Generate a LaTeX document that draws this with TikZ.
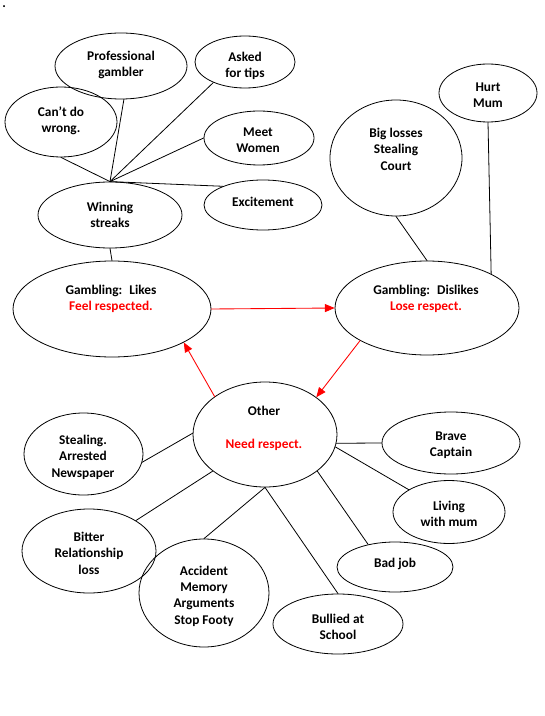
\documentclass[tikz,border=0pt]{standalone}
\usepackage{fontspec}
\setmainfont{Carlito}
\usepackage{tikz}
\usetikzlibrary{arrows}
\usetikzlibrary{shapes.geometric}

\begin{document}
\begin{tikzpicture}[x=0.75pt,y=-0.75pt,line cap=round,line join=round,>=triangle 45,
    bubble/.style 2 args={draw,ellipse,inner sep=0pt,line width=0.6pt,minimum width=#1*0.75pt,minimum height=#2*0.75pt},
    txt/.style={align=center,font=\fontsize{10}{12.3}\selectfont\bfseries,inner sep=0pt},
    link/.style={line width=0.6pt},
    resp/.style={->,color=red,line width=0.65pt}]
  \useasboundingbox (0,0) rectangle (545,716);
  \node[txt,anchor=base west] (dot) at (2,8) {.};

  \node[bubble={132}{66}] (pro) at (121,66) {};
  \node[bubble={100}{52}] (ask) at (245,62) {};
  \node[bubble={112}{70}] (cant) at (61,122) {};
  \node[bubble={110}{54}] (meet) at (259,138) {};
  \node[bubble={118}{50}] (exc) at (263,205) {};
  \node[bubble={144}{66}] (win) at (110,215) {};
  \node[bubble={198}{96}] (likes) at (112,309) {};
  \node[bubble={184}{94}] (dis) at (427,308) {};
  \node[bubble={98}{58}] (hurt) at (488,93) {};
  \node[bubble={132}{116}] (big) at (396,158) {};
  \node[bubble={144}{105}] (oth) at (265,434.5) {};
  \node[bubble={119}{82}] (steal) at (83.5,454) {};
  \node[bubble={138}{62}] (brave) at (451,443) {};
  \node[bubble={112}{63}] (liv) at (449,512) {};
  \node[bubble={116}{50}] (bad) at (395,567) {};
  \node[bubble={130}{60}] (bul) at (338,624) {};
  \node[bubble={130}{108}] (acc) at (204,593) {};
  \node[bubble={134}{84}] (bit) at (89,551) {};

  \node[txt] (pro-t) at (121,65) {Professional\\gambler};
  \node[txt] (ask-t) at (245,66) {Asked\\for tips};
  \node[txt] (cant-t) at (61,121) {Can’t do\\wrong.};
  \node[txt] (meet-t) at (258,140) {Meet\\Women};
  \node[txt] (exc-t) at (263,202) {Excitement};
  \node[txt] (win-t) at (110,215) {Winning\\streaks};
  \node[txt] (likes-t) at (111,299) {Gambling:~ Likes\\\textcolor{red}{Feel respected.}};
  \node[txt] (dis-t) at (426,299) {Gambling:~ Dislikes\\\textcolor{red}{Lose respect.}};
  \node[txt] (hurt-t) at (488,95) {Hurt\\Mum};
  \node[txt] (big-t) at (396,149) {Big losses\\Stealing\\Court};
  \node[txt] (oth-t) at (264,428.5) {Other\\[12.5pt]\textcolor{red}{Need respect.}};
  \node[txt] (steal-t) at (83,457) {Stealing.\\Arrested\\Newspaper};
  \node[txt] (brave-t) at (451,445) {Brave\\Captain};
  \node[txt] (liv-t) at (449,514) {Living\\with mum};
  \node[txt] (bad-t) at (395,564) {Bad job};
  \node[txt] (bul-t) at (338,627) {Bullied at\\School};
  \node[txt] (acc-t) at (204,596) {Accident\\Memory\\Arguments\\Stop Footy};
  \node[txt] (bit-t) at (89,553) {Bitter\\Relationship\\loss};

  \foreach \t in {cant.south,pro.-85,ask.-147,meet.west,exc.155}
  \draw[link] (win.north) -- (\t);
  \draw[link] (win.south) -- (likes.north);
  \draw[link] (big.south) -- (dis.north);
  \draw[link] (hurt.south) -- (dis.28);
  \draw[resp] (likes.east) -- (dis.west);
  \draw[resp] (dis.-154) -- (oth.36);
  \draw[resp] (oth.143) -- (likes.-25);
  \draw[link] (steal.-8) -- (oth.179);
  \draw[link] (oth.-7) -- (brave.west);
  \draw[link] (oth.-10) -- (liv.151);
  \draw[link] (oth.-35) -- (bad.140);
  \draw[link] (oth.south) -- (bul.north);
  \draw[link] (oth.south) -- (acc.north);
  \draw[link] (oth.-145) -- (bit.33);
\end{tikzpicture}
\end{document}
